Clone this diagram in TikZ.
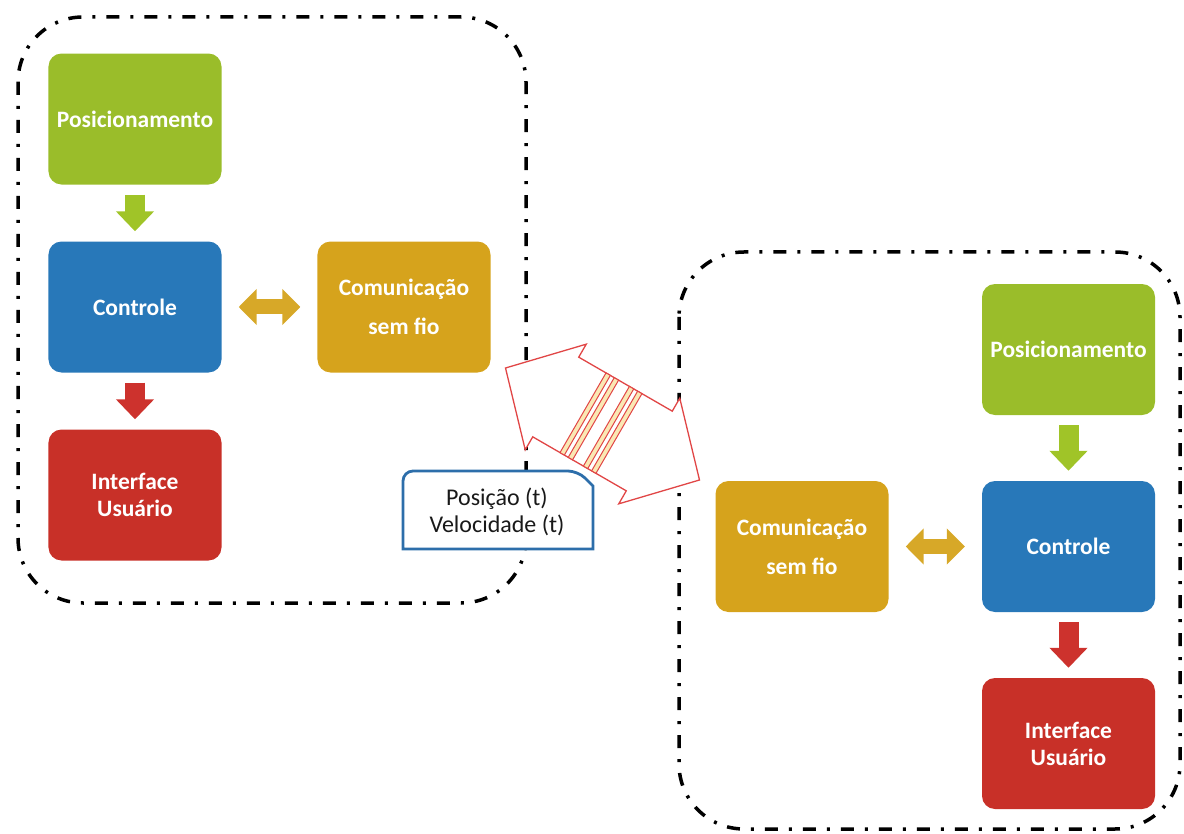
\documentclass[tikz,border=0pt]{standalone}
\usepackage{fontspec}
\setmainfont{Carlito}
\usetikzlibrary{arrows.meta, matrix}

\definecolor{verdeBloco}{RGB}{154,189,42}
\definecolor{azulBloco}{RGB}{40,120,185}
\definecolor{vermBloco}{RGB}{200,48,40}
\definecolor{ouroBloco}{RGB}{214,163,28}
\definecolor{verdeSeta}{RGB}{160,196,40}
\definecolor{vermSeta}{RGB}{205,50,45}
\definecolor{ouroSeta}{RGB}{215,168,40}
\definecolor{azulRotulo}{RGB}{45,110,170}
\definecolor{vermRadio}{RGB}{225,70,70}
\definecolor{faixaRadio}{RGB}{250,232,180}

\begin{document}
\begin{tikzpicture}[x=1pt, y=-1pt,
  bloco/.style={rectangle, rounded corners=13pt, minimum width=173pt,
    minimum height=131pt, align=center, text=white, inner sep=2pt,
    font=\fontsize{23.5}{27}\selectfont\bfseries},
  %
  posic/.style={bloco, fill=verdeBloco},
  contr/.style={bloco, fill=azulBloco},
  inter/.style={bloco, fill=vermBloco},
  comun/.style={bloco, fill=ouroBloco},
  %
  grupo/.style={draw=black, line width=3.5pt, rounded corners=65pt,
    dash pattern=on 13pt off 11pt on 3pt off 11pt},
  %
  seta/.style={line width=20pt, shorten <=10pt, shorten >=10pt,
    -{Triangle[width=37pt, length=20pt]}},
  %
  setadupla/.style={line width=15pt, shorten <=17pt, shorten >=17pt,
    {Triangle[width=35pt, length=18pt]}-{Triangle[width=35pt, length=18pt]}},
  %
  radio/.style={draw=vermRadio, line width=1.3pt, fill=white},
  faixa/.style={draw=vermRadio, line width=1pt, fill=faixaRadio},
  %
  rotulo/.style={align=center, inner sep=0pt, text=black!90,
    font=\fontsize{24}{27}\selectfont},
  moldura/.style={draw=azulRotulo, line width=2.8pt, fill=white}
  ]

  \useasboundingbox (0,0) rectangle (1184,834);

  % grupos tracejados
  \draw [grupo] (18,17) rectangle (526,603);
  \draw [grupo] (679,252) rectangle (1180,829);

  \begin{scope}
    \matrix [row sep=57pt, column sep=96pt] (esquerda) at (269.5,307) {
    %%%%%%%%%%%%%%%%%%%%%%%%%%%%%%%
    \node [posic] (pos1) {Posicionamento}; &
    \\
    %%%%%%%%%%%%%%%%%%%%%%%%%%%%%%%
    \node [contr] (ctl1) {Controle}; &
    \node [comun] (com1) {Comunicação\\[12pt]sem fio}; \\
    %%%%%%%%%%%%%%%%%%%%%%%%%%%%%%%
    \node [inter] (int1) {Interface\\Usuário}; &
    \\
  };
  \end{scope}

  \begin{scope}
    \matrix [row sep=66pt, column sep=93.5pt] (direita) at (935.25,546.5) {
    %%%%%%%%%%%%%%%%%%%%%%%%%%%%%%%
    &
    \node [posic] (pos2) {Posicionamento}; \\
    %%%%%%%%%%%%%%%%%%%%%%%%%%%%%%%
    \node [comun] (com2) {Comunicação\\[12pt]sem fio}; &
    \node [contr] (ctl2) {Controle}; \\
    %%%%%%%%%%%%%%%%%%%%%%%%%%%%%%%
    &
    \node [inter] (int2) {Interface\\Usuário}; \\
  };
  \end{scope}

  \begin{scope}
    \draw [seta, verdeSeta] (pos1) -- (ctl1);
    \draw [seta, vermSeta] (ctl1) -- (int1);
    \draw [setadupla, ouroSeta] (ctl1) -- (com1);
    \draw [seta, verdeSeta] (pos2) -- (ctl2);
    \draw [seta, vermSeta] (ctl2) -- (int2);
    \draw [setadupla, ouroSeta] (com2) -- (ctl2);
  \end{scope}

  % seta larga sem fio
  \begin{scope}[shift={(602.5,424)}, rotate=-30]
    \draw [radio] (-112,0) -- (-54,-61) -- (-54,-46) -- (54,-46)
      -- (54,-61) -- (112,0) -- (54,61) -- (54,46) -- (-54,46)
      -- (-54,61) -- cycle;
    \foreach \u in {-20,-10.5,7,16.5}
      \draw [faixa] (\u-2.5,-46) rectangle (\u+2.5,46);
  \end{scope}

  % rotulo dos dados
  \draw [moldura] (403,549) [rounded corners=10pt] -- (403,471) -- (578,471)
    [sharp corners] -- (593,486) -- (593,549) -- cycle;
  \node [rotulo] (dados) at (497,512) {Posição (t)\\Velocidade (t)};

\end{tikzpicture}
\end{document}
